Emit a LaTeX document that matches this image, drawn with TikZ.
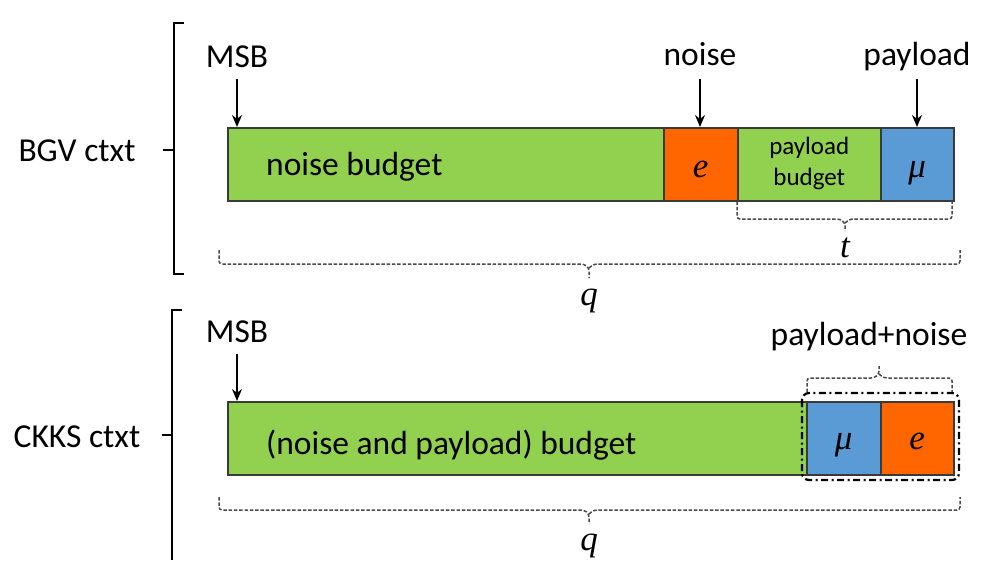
\documentclass[tikz,border=0pt]{standalone}
\usepackage{fontspec}
\setmainfont{Carlito}
\newfontfamily\symfont{Liberation Serif}
\usetikzlibrary{arrows.meta,calc}
\definecolor{budgetgreen}{HTML}{92D050}
\definecolor{noiseorange}{HTML}{FF6600}
\definecolor{payloadblue}{HTML}{5B9BD5}
\definecolor{segline}{HTML}{3A3A3A}
\definecolor{spanline}{HTML}{4A4A4A}

\begin{document}
\begin{tikzpicture}[x=1pt,y=-1pt,
  seg/.style={draw=segline,line width=1.5pt,minimum height=73pt,inner sep=0pt,anchor=north west},
  big/.style={font=\fontsize{33.5}{40}\selectfont,inner sep=0pt},
  small/.style={font=\fontsize{25}{31}\selectfont,align=center,inner sep=0pt},
  mathlbl/.style={font=\symfont\itshape\fontsize{35}{40}\selectfont,inner sep=0pt,anchor=base},
  pointer/.style={-{Stealth[length=12pt,width=10pt]},line width=1.7pt},
  span/.style={draw=spanline,line width=1.5pt,dash pattern=on 3.5pt off 1.8pt,rounded corners=3pt},
  bracket/.style={line width=2.3pt,black},
  group/.style={line width=2.2pt,dash pattern=on 7pt off 3.5pt on 2pt off 3.5pt,rounded corners=7pt}
]
\useasboundingbox (0,0) rectangle (984,560);

% ---------- BGV ciphertext ----------
\node[seg,fill=budgetgreen,minimum width=436pt] (nb) at (227,127) {};
\node[seg,fill=noiseorange,minimum width=74pt] (e) at (663,127) {};
\node[seg,fill=budgetgreen,minimum width=143pt] (pb) at (737,127) {};
\node[seg,fill=payloadblue,minimum width=73pt] (mu) at (880,127) {};
\node[mathlbl] (elbl) at ([yshift=-13pt]e.center) {e};
\node[mathlbl] (mulbl) at ([yshift=-13pt]mu.center) {μ};
\node[small] (pblbl) at ([yshift=1pt]pb.center) {payload\\budget};
\node[big,anchor=base west] (nblbl) at (266,175) {noise budget};

\node[big,anchor=base] (msb1) at (237,67) {MSB};
\node[big,anchor=base] (noise) at (700,65) {noise};
\node[big,anchor=base] (payload) at (917,65) {payload};
\draw[pointer] ([yshift=-12pt]msb1.base) -- (msb1.base |- nb.north);
\draw[pointer] ([yshift=-14pt]noise.base) -- (noise.base |- e.north);
\draw[pointer] ([yshift=-14pt]payload.base) -- (payload.base |- mu.north);

% span t over payload budget and payload
\draw[span] (pb.south west) -- (737,219) -- (840,219) -- (845,223) -- (845,231);
\draw[span] (845,223) -- (850,219) -- (952,219) -- (952,201);
\node[mathlbl] (t) at (845,257) {t};

% span q over the whole ciphertext
\draw[span] (219,250) -- (219,264) -- (584,264) -- (589,268) -- (589,278);
\draw[span] (589,268) -- (594,264) -- (960,264) -- (960,250);
\node[mathlbl] (q1) at (589,305) {q};

% outer bracket
\node[big] (bgv) at (77,151) {BGV ctxt};
\draw[bracket] (184,23) -- (174,23) -- (174,274) -- (184,274);
\draw[bracket] (174,150) -- (163,150);

% ---------- CKKS ciphertext ----------
\node[seg,fill=budgetgreen,minimum width=579pt] (cb) at (227,401) {};
\node[seg,fill=payloadblue,minimum width=74pt] (cmu) at (806,401) {};
\node[seg,fill=noiseorange,minimum width=73pt] (ce) at (880,401) {};
\node[mathlbl] (cmulbl) at ([yshift=-11pt]cmu.center) {μ};
\node[mathlbl] (celbl) at ([yshift=-11pt]ce.center) {e};
\node[big,anchor=base west] (cblbl) at (266,454) {(noise and payload) budget};

\node[big,anchor=base] (msb2) at (237,342) {MSB};
\draw[pointer] ([yshift=-12pt]msb2.base) -- (msb2.base |- cb.north);

% payload and noise grouped together
\draw[group] (802,393) rectangle (959,480);
\draw[span] (807,392) -- (807,378) -- (874,378) -- (879,374) -- (879,366);
\draw[span] (879,374) -- (884,378) -- (952,378) -- (952,392);
\node[big,anchor=base] (pn) at (869,345) {payload+noise};

% span q over the whole ciphertext
\draw[span] (219,497) -- (219,510) -- (584,510) -- (589,514) -- (589,524);
\draw[span] (589,514) -- (594,510) -- (960,510) -- (960,497);
\node[mathlbl] (q2) at (589,550) {q};

% outer bracket
\node[big] (ckks) at (77,437) {CKKS ctxt};
\draw[bracket] (182,310) -- (172,310) -- (172,560);
\draw[bracket] (172,435) -- (162,435);
\end{tikzpicture}
\end{document}
